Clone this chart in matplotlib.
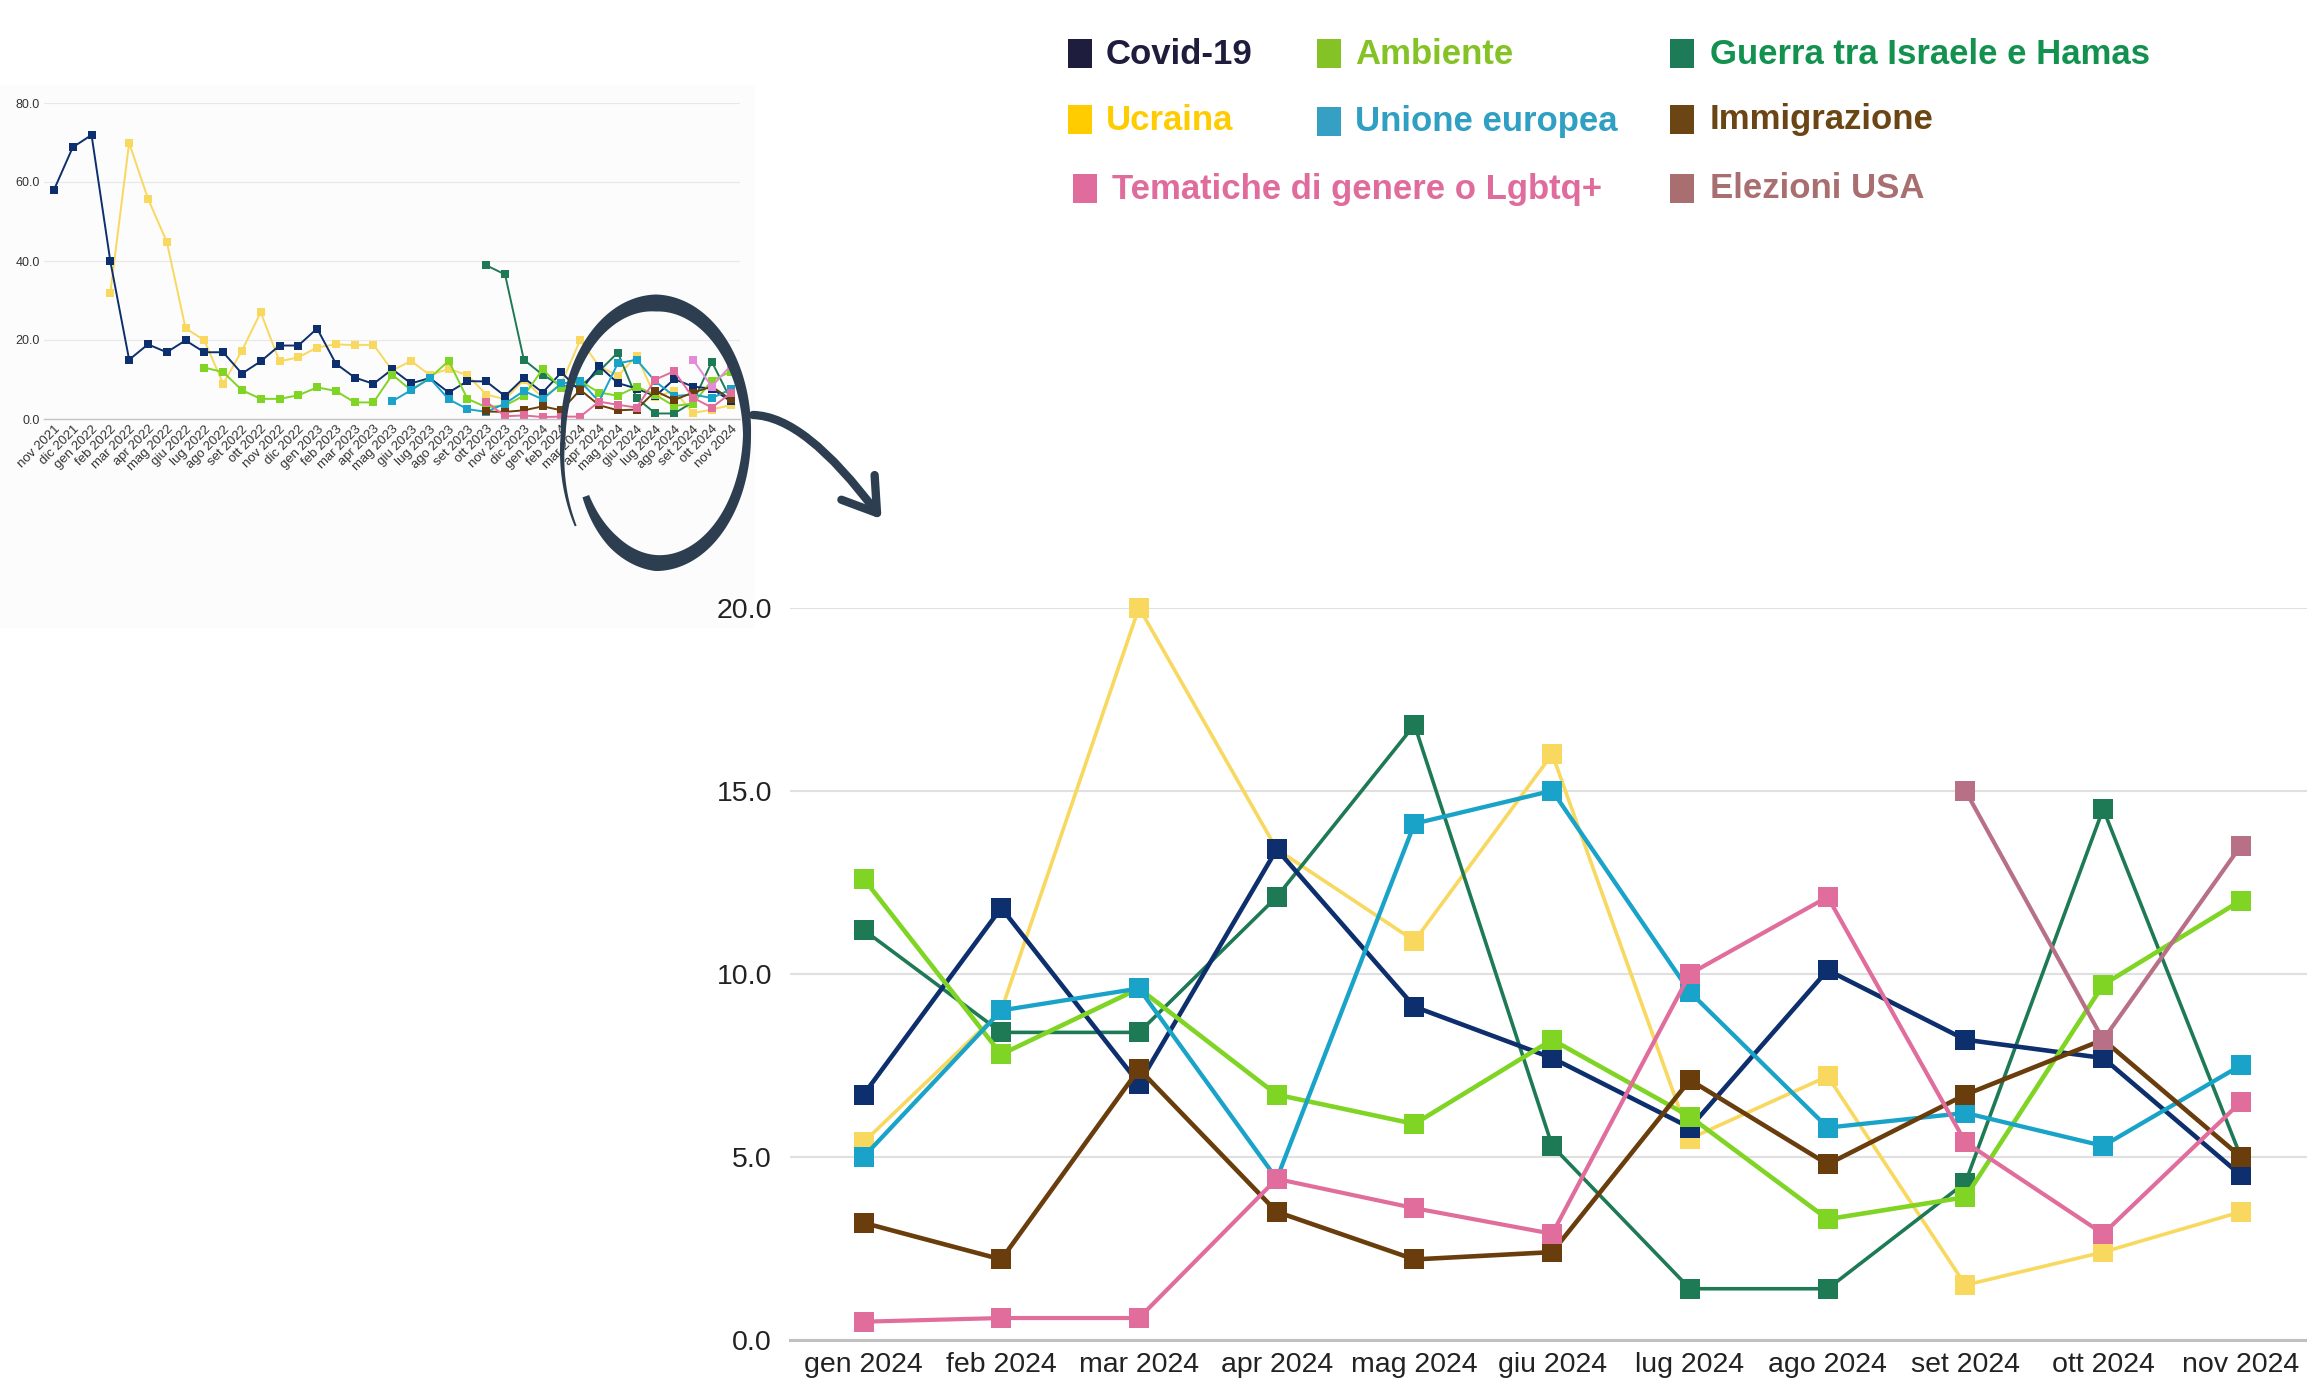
import numpy as np
import matplotlib
matplotlib.use("Agg")
import matplotlib.pyplot as plt
from matplotlib.patches import Rectangle, Polygon, PathPatch
from matplotlib.path import Path

plt.rcParams['font.family'] = ['Liberation Sans', 'DejaVu Sans']

W, H = 2307, 1383

# --- months ---
mesi_prima = ["nov 2021", "dic 2021", "gen 2022", "feb 2022", "mar 2022", "apr 2022",
              "mag 2022", "giu 2022", "lug 2022", "ago 2022", "set 2022", "ott 2022",
              "nov 2022", "dic 2022", "gen 2023", "feb 2023", "mar 2023", "apr 2023",
              "mag 2023", "giu 2023", "lug 2023", "ago 2023", "set 2023", "ott 2023",
              "nov 2023", "dic 2023"]
mesi_2024 = ["gen 2024", "feb 2024", "mar 2024", "apr 2024", "mag 2024", "giu 2024",
             "lug 2024", "ago 2024", "set 2024", "ott 2024", "nov 2024"]

# --- values, nov 2021 - dic 2023 ---
covid_prima = [58.0, 68.8, 71.9, 39.9, 15.0, 18.9, 16.9, 19.9, 16.9, 16.9, 11.5, 14.6, 18.6,
               18.6, 22.9, 14.0, 10.5, 8.9, 12.6, 9.0, 10.4, 6.7, 9.6, 9.5, 5.8, 10.4]
ucraina_prima = [None] * 3 + [32.0, 69.9, 55.8, 44.9, 23.0, 19.9, 8.9, 17.3, 27.0, 14.6, 15.6,
                              18.1, 18.9, 18.7, 18.8, 12.3, 14.7, 11.1, 12.7, 11.1, 6.2, 5.0, 9.9]
ambiente_prima = [None] * 8 + [13.0, 11.9, 7.3, 5.1, 5.1, 6.0, 8.0, 7.1, 4.2, 4.2, 11.2, 7.3,
                               10.4, 14.7, 5.1, 3.0, 3.4, 5.9]
ue_prima = [None] * 18 + [4.5, 7.3, 10.3, 5.0, 2.5, 1.8, 3.9, 7.1]
guerra_prima = [None] * 23 + [38.9, 36.6, 15.0]
immigrazione_prima = [None] * 23 + [1.9, 1.8, 2.2]
tematiche_prima = [None] * 23 + [4.4, 0.7, 0.9]
elezioni_prima = [None] * 26

# --- values, 2024 ---
covid_2024 = [6.7, 11.8, 7.0, 13.4, 9.1, 7.7, 5.8, 10.1, 8.2, 7.7, 4.5]
ucraina_2024 = [5.4, 9.0, 20.0, 13.4, 10.9, 16.0, 5.5, 7.2, 1.5, 2.4, 3.5]
ambiente_2024 = [12.6, 7.8, 9.6, 6.7, 5.9, 8.2, 6.1, 3.3, 3.9, 9.7, 12.0]
guerra_2024 = [11.2, 8.4, 8.4, 12.1, 16.8, 5.3, 1.4, 1.4, 4.3, 14.5, 5.0]
ue_2024 = [5.0, 9.0, 9.6, 4.4, 14.1, 15.0, 9.5, 5.8, 6.2, 5.3, 7.5]
immigrazione_2024 = [3.2, 2.2, 7.4, 3.5, 2.2, 2.4, 7.1, 4.8, 6.7, 8.2, 5.0]
tematiche_2024 = [0.5, 0.6, 0.6, 4.4, 3.6, 2.9, 10.0, 12.1, 5.4, 2.9, 6.5]
elezioni_2024 = [None] * 8 + [15.0, 8.2, 13.5]

# name, before-2024, 2024, colour (big), colour (small), line width (big)
serie = [
    ("Ucraina", ucraina_prima, ucraina_2024, "#f8d85e", "#f8d85e", 2.6),
    ("Guerra", guerra_prima, guerra_2024, "#1e7a55", "#1e7a55", 2.6),
    ("Covid-19", covid_prima, covid_2024, "#0d2f6e", "#0d2f6e", 3.3),
    ("Ambiente", ambiente_prima, ambiente_2024, "#7fd424", "#7fd424", 3.3),
    ("Unione europea", ue_prima, ue_2024, "#1aa3c8", "#1aa3c8", 3.1),
    ("Immigrazione", immigrazione_prima, immigrazione_2024, "#6a3d0c", "#6a3d0c", 3.3),
    ("Tematiche", tematiche_prima, tematiche_2024, "#e06d9c", "#e06d9c", 3.0),
    ("Elezioni USA", elezioni_prima, elezioni_2024, "#b87086", "#e58ad8", 3.0),
]

fig = plt.figure(figsize=(W / 100, H / 100), dpi=100)
fig.patch.set_facecolor("white")


def fig_box(x0, y0, x1, y1):
    # pixel box (top-left origin) -> figure fraction rect
    return [x0 / W, 1 - y1 / H, (x1 - x0) / W, (y1 - y0) / H]


# faint panel behind the overview chart
fig.patches.append(Rectangle((0, 1 - 628 / H), 755 / W, (628 - 85) / H,
                             transform=fig.transFigure, fc="#fcfcfc", ec="none", zorder=-5))

# --- overview chart (nov 2021 - nov 2024) ---
tutti_mesi = mesi_prima + mesi_2024
ax1 = fig.add_axes(fig_box(44, 103, 740, 419), zorder=2)
ax1.set_facecolor("none")
x1 = np.arange(len(tutti_mesi))
for nome, prima, nuovi, c_big, c_small, lw in serie:
    y = np.array(prima + nuovi, dtype=float)
    ax1.plot(x1, y, color=c_small, lw=1.4, marker="s", ms=5.5, mew=0)
ax1.set_xlim(-0.53, 36.5)
ax1.set_ylim(0, 80)
ax1.set_yticks([0, 20, 40, 60, 80])
ax1.set_yticklabels([f"{v:.1f}" for v in [0, 20, 40, 60, 80]], fontsize=9, color="#333333")
ax1.set_xticks(x1)
ax1.set_xticklabels(tutti_mesi, rotation=45, ha="right", rotation_mode="anchor",
                    fontsize=9.5, color="#333333")
ax1.tick_params(length=0, pad=3)
ax1.grid(axis="y", color="#e8e8e8", lw=0.8)
ax1.set_axisbelow(True)
for s in ["top", "right", "left"]:
    ax1.spines[s].set_visible(False)
ax1.spines["bottom"].set_color("#c4c4c4")
ax1.spines["bottom"].set_linewidth(1.0)

# --- 2024 detail chart ---
ax2 = fig.add_axes(fig_box(790, 607.6, W, 1340), zorder=2)
ax2.set_facecolor("none")
x2 = np.arange(len(mesi_2024))
for nome, prima, nuovi, c_big, c_small, lw in serie:
    y = np.array(nuovi, dtype=float)
    ax2.plot(x2, y, color=c_big, lw=lw, marker="s", ms=14, mew=0, clip_on=False)
ax2.set_xlim(-0.534, 10.48)
ax2.set_ylim(0, 20)
ax2.set_yticks([0, 5, 10, 15, 20])
ax2.set_yticklabels([f"{v:.1f}" for v in [0, 5, 10, 15, 20]], fontsize=20.5, color="#222222")
ax2.set_xticks(x2)
ax2.set_xticklabels(mesi_2024, fontsize=20.5, color="#222222")
ax2.tick_params(axis="y", length=0, pad=13)
ax2.tick_params(axis="x", length=0, pad=9)
ax2.grid(axis="y", color="#e0e0e0", lw=1.5)
ax2.set_axisbelow(True)
for s in ["top", "right", "left"]:
    ax2.spines[s].set_visible(False)
ax2.spines["bottom"].set_color("#c0c0c0")
ax2.spines["bottom"].set_linewidth(2.2)

# --- overlay in pixel coordinates: legend, circle, arrow ---
ov = fig.add_axes([0, 0, 1, 1], zorder=10)
ov.set_xlim(0, W)
ov.set_ylim(H, 0)
ov.axis("off")
ov.patch.set_alpha(0)

legenda = [
    ("Covid-19", "#1e1d3d", "#1e1d3d", 1068, 1106, 53),
    ("Ambiente", "#85c226", "#85c226", 1317, 1355, 53),
    ("Guerra tra Israele e Hamas", "#1e7b58", "#13924f", 1670, 1710, 53),
    ("Ucraina", "#ffcc00", "#ffcc00", 1068, 1106, 119),
    ("Unione europea", "#35a0c4", "#2f9fc3", 1317, 1355, 121),
    ("Immigrazione", "#6b4513", "#6b4513", 1670, 1710, 119),
    ("Tematiche di genere o Lgbtq+", "#df6c9c", "#df6c9c", 1073, 1112, 188),
    ("Elezioni USA", "#a86e70", "#a86e70", 1670, 1710, 188),
]
for testo, c_quad, c_testo, xq, xt, yc in legenda:
    ov.add_patch(Rectangle((xq, yc - 14.5), 24, 29, fc=c_quad, ec="none"))
    ov.text(xt, yc + 1, testo, color=c_testo, fontsize=25, fontweight="bold",
            va="center", ha="left")

scuro = "#2c3e50"

# hand-drawn ellipse around the 2024 months of the overview
cx, cy, a, b = 656, 435, 91, 132
gradi = np.linspace(211, 578, 500)
th = np.radians(gradi)
r = np.interp(gradi, [211, 270, 360, 450, 540, 578], [0.9, 0.97, 1.0, 1.0, 1.02, 1.12])
w = np.interp(gradi, [211, 240, 270, 320, 360, 400, 450, 490, 540, 578],
              [7, 13, 16, 11, 8, 12, 17, 11, 5, 2])
px = cx + r * a * np.cos(th)
py = cy - r * b * np.sin(th)
dx, dy = np.gradient(px), np.gradient(py)
n = np.hypot(dx, dy)
nx, ny = -dy / n, dx / n
esterno = np.column_stack([px + nx * w / 2, py + ny * w / 2])
interno = np.column_stack([px - nx * w / 2, py - ny * w / 2])
ov.add_patch(Polygon(np.vstack([esterno, interno[::-1]]), closed=True, fc=scuro, ec="none"))

# curved arrow towards the detail chart
S, C, E = np.array([753, 415]), np.array([805, 416]), np.array([877, 513])
ov.add_patch(PathPatch(Path([S, C, E], [Path.MOVETO, Path.CURVE3, Path.CURVE3]),
                       fc="none", ec=scuro, lw=6, capstyle="round"))
d = (E - C) / np.linalg.norm(E - C)
punte = []
for ang in (33, -33):
    t = np.radians(ang)
    rot = np.array([[np.cos(t), -np.sin(t)], [np.sin(t), np.cos(t)]])
    punte.append(E - 38 * rot @ d)
testa = np.array([punte[0], E, punte[1]])
ov.plot(testa[:, 0], testa[:, 1], color=scuro, lw=6,
        solid_capstyle="round", solid_joinstyle="round")

fig.savefig("out.png", dpi=100, facecolor="white")
